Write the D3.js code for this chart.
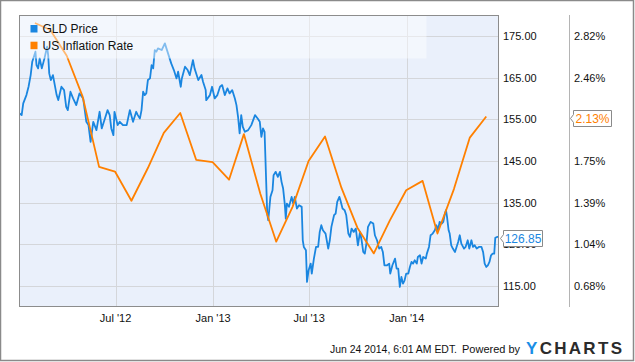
<!DOCTYPE html>
<html><head><meta charset="utf-8">
<script src="https://cdn.jsdelivr.net/npm/d3@7"></script>
<style>
html,body{margin:0;padding:0;background:#fff;}
svg text{font-family:"Liberation Sans",Arial,sans-serif;}
</style></head>
<body><svg id="c" width="635" height="362"></svg>
<script>
const priceDates = ["2012-01-02","2012-01-06","2012-01-09","2012-01-15","2012-01-19","2012-01-23","2012-01-26","2012-02-01","2012-02-03","2012-02-06","2012-02-09","2012-02-13","2012-02-18","2012-02-23","2012-02-25","2012-02-27","2012-03-01","2012-03-05","2012-03-12","2012-03-15","2012-03-21","2012-03-26","2012-03-30","2012-04-02","2012-04-07","2012-04-12","2012-04-18","2012-04-24","2012-05-01","2012-05-07","2012-05-11","2012-05-15","2012-05-20","2012-05-26","2012-06-01","2012-06-05","2012-06-11","2012-06-16","2012-06-20","2012-06-23","2012-06-27","2012-06-29","2012-07-05","2012-07-09","2012-07-15","2012-07-22","2012-07-28","2012-08-03","2012-08-09","2012-08-12","2012-08-16","2012-08-19","2012-08-22","2012-08-25","2012-08-28","2012-08-31","2012-09-04","2012-09-07","2012-09-10","2012-09-13","2012-09-16","2012-09-19","2012-09-26","2012-10-02","2012-10-05","2012-10-11","2012-10-14","2012-10-19","2012-10-24","2012-10-27","2012-11-01","2012-11-03","2012-11-09","2012-11-14","2012-11-18","2012-11-24","2012-11-27","2012-12-01","2012-12-04","2012-12-10","2012-12-13","2012-12-18","2012-12-19","2012-12-26","2012-12-30","2013-01-04","2013-01-09","2013-01-14","2013-01-18","2013-01-23","2013-01-28","2013-02-01","2013-02-06","2013-02-11","2013-02-14","2013-02-17","2013-02-20","2013-02-23","2013-02-26","2013-03-02","2013-03-08","2013-03-14","2013-03-21","2013-03-26","2013-03-30","2013-04-02","2013-04-05","2013-04-08","2013-04-13","2013-04-15","2013-04-19","2013-04-23","2013-04-25","2013-04-29","2013-05-03","2013-05-07","2013-05-10","2013-05-13","2013-05-16","2013-05-18","2013-05-20","2013-05-24","2013-05-29","2013-06-01","2013-06-04","2013-06-08","2013-06-12","2013-06-17","2013-06-19","2013-06-21","2013-06-25","2013-06-27","2013-06-30","2013-07-04","2013-07-06","2013-07-10","2013-07-14","2013-07-18","2013-07-21","2013-07-24","2013-07-27","2013-08-01","2013-08-06","2013-08-09","2013-08-12","2013-08-17","2013-08-20","2013-08-23","2013-08-27","2013-08-29","2013-09-02","2013-09-06","2013-09-09","2013-09-13","2013-09-16","2013-09-19","2013-09-23","2013-09-27","2013-10-01","2013-10-05","2013-10-08","2013-10-11","2013-10-14","2013-10-17","2013-10-20","2013-10-25","2013-10-30","2013-11-02","2013-11-06","2013-11-10","2013-11-14","2013-11-17","2013-11-20","2013-11-25","2013-11-29","2013-12-01","2013-12-05","2013-12-10","2013-12-13","2013-12-16","2013-12-19","2013-12-22","2013-12-25","2013-12-28","2013-12-31","2014-01-04","2014-01-07","2014-01-10","2014-01-13","2014-01-16","2014-01-20","2014-01-22","2014-01-26","2014-01-29","2014-02-01","2014-02-06","2014-02-08","2014-02-12","2014-02-15","2014-02-19","2014-02-23","2014-02-26","2014-03-01","2014-03-04","2014-03-08","2014-03-11","2014-03-14","2014-03-16","2014-03-18","2014-03-21","2014-03-23","2014-03-26","2014-03-29","2014-04-02","2014-04-05","2014-04-08","2014-04-11","2014-04-14","2014-04-19","2014-04-22","2014-04-26","2014-04-29","2014-05-03","2014-05-06","2014-05-09","2014-05-13","2014-05-17","2014-05-22","2014-05-25","2014-05-28","2014-05-31","2014-06-03","2014-06-06","2014-06-09","2014-06-12","2014-06-15","2014-06-17","2014-06-21","2014-06-24"];
const priceValues = [156.4,156,158.8,160.8,162.8,165.6,168.8,171.2,168,167.2,169.6,167.2,169.6,172.4,170.4,166,164.4,165.6,160.8,159.6,162.8,162,158,157.2,161.6,160,158.4,161.2,160,154.4,153.6,149.6,154.4,152.4,156.8,152.8,155.2,157.2,156,152.8,151.2,156.8,153.6,154.4,153.6,153.6,157.2,154.4,156.8,156,155.2,157.2,161.6,160.8,161.2,164.4,164.8,168,167.2,171.6,171.2,172,171.6,173.2,172,169.6,168.4,166.8,164.8,166.4,162.8,164.8,167.6,166.8,165.6,169.2,167.2,165.6,164.4,165.6,164,162,159.6,160.8,162.8,160,160.8,162.8,163.2,160.8,162.4,161.2,162,160,158.4,155.6,151.6,156,153.2,152,152.4,153.6,156,155.2,154.4,150.8,152.8,152,132.4,130.8,136.4,138,141.6,142.4,141.2,142.4,140,138.4,134.8,131.2,134.8,134,136.4,134.8,136.4,133.6,134.4,134,126,124.4,123.6,116,118.8,120.4,118,121.6,124.4,124.4,128,129.6,128.4,127.6,124,126,129.2,132,132.4,135.2,136.4,135.6,133.6,133.2,132,127.6,126.8,128.8,128,128.8,124.8,128,126,123.2,122.8,125.2,129.2,130.4,130,127.2,126,124,124.4,123.2,120,120,120.4,118,120,121.6,119.2,119.2,114.8,117.2,115.6,116.4,118,118,119.6,120.8,120.4,121.2,120.4,122,122.4,120.4,122,121.6,122.8,124.4,127.2,127.6,128.4,129.6,128.4,130.4,130,130.4,132.4,133.2,131.6,128.4,127.6,124.8,124,123.2,124.4,125.6,127.2,125.2,124,124.4,126,124,126,124.4,124.8,124,124.4,124.4,123.2,120.4,119.6,120,120.8,122.4,122.8,122.8,126.6,126.8,126.85];
const inflDates = ["2012-01-31","2012-02-29","2012-03-31","2012-04-30","2012-05-31","2012-06-30","2012-07-31","2012-08-31","2012-09-30","2012-10-31","2012-11-30","2012-12-31","2013-01-31","2013-02-28","2013-03-31","2013-04-30","2013-05-31","2013-06-30","2013-07-31","2013-08-31","2013-09-30","2013-10-31","2013-11-30","2013-12-31","2014-01-31","2014-02-28","2014-03-31","2014-04-30","2014-05-31"];
const inflValues = [2.93,2.87,2.65,2.30,1.70,1.66,1.41,1.69,1.99,2.16,1.76,1.74,1.59,1.98,1.47,1.06,1.36,1.75,1.96,1.52,1.18,0.96,1.24,1.50,1.58,1.13,1.51,1.95,2.13];
const priceTicks = [115,125,135,145,155,165,175];
// the 2.11% tick sits fully behind the 2.13% flag in the reference, so it is not drawn
const pctTickValues = [0.68,1.04,1.39,1.75,2.46,2.82];
const xTickDates = ["2012-07-01","2013-01-01","2013-07-01","2014-01-01"];
const xTickLabels = ["Jul '12","Jan '13","Jul '13","Jan '14"];
const seriesNames = ["GLD Price","US Inflation Rate"];
const lastPriceLabel = "126.85";
const lastInflLabel = "2.13%";

const BLUE = "#1a86e0", ORANGE = "#ff8000";
const parse = d3.timeParse("%Y-%m-%d");
const svg = d3.select("#c");
const L = 19, R = 499, T = 15, B = 307;

const x = d3.scaleTime().domain([parse("2012-01-01"), parse("2014-06-24")]).range([L, R]);
const y = d3.scaleLinear().domain([110, 180]).range([B, T]);
const y2 = d3.scaleLinear().domain([0.68, 2.82]).range([y(115), y(175)]);

svg.append("rect").attr("x",0.5).attr("y",0.5).attr("width",633).attr("height",360)
  .attr("fill","#fff").attr("stroke","#8a8a8a").attr("stroke-width",1.5);

svg.append("rect").attr("x",L).attr("y",T).attr("width",R-L).attr("height",B-T).attr("fill","#eaf0fb");

svg.append("g").selectAll("line").data(priceTicks).join("line")
  .attr("x1",L).attr("x2",R).attr("y1",d=>Math.round(y(d))+0.5).attr("y2",d=>Math.round(y(d))+0.5)
  .attr("stroke","#d4d6da").attr("stroke-width",1);
svg.append("g").selectAll("line").data(xTickDates).join("line")
  .attr("y1",T).attr("y2",B).attr("x1",d=>Math.round(x(parse(d)))+0.5).attr("x2",d=>Math.round(x(parse(d)))+0.5)
  .attr("stroke","#d4d6da").attr("stroke-width",1);

svg.append("clipPath").attr("id","clip").append("rect").attr("x",L).attr("y",T).attr("width",R-L).attr("height",B-T);
const g = svg.append("g").attr("clip-path","url(#clip)");

const priceData = priceDates.map((d,i)=>({d:parse(d), v:priceValues[i]}));
const inflData = inflDates.map((d,i)=>({d:parse(d), v:inflValues[i]}));

g.append("path").datum(priceData)
  .attr("d", d3.line().x(p=>x(p.d)).y(p=>y(p.v)))
  .attr("fill","none").attr("stroke",BLUE).attr("stroke-width",1.8).attr("stroke-linejoin","round");
g.append("path").datum(inflData)
  .attr("d", d3.line().x(p=>x(p.d)).y(p=>y2(p.v)))
  .attr("fill","none").attr("stroke",ORANGE).attr("stroke-width",1.8).attr("stroke-linejoin","round");

svg.append("rect").attr("x",L+0.5).attr("y",T+0.5).attr("width",407).attr("height",43)
  .attr("fill","#fff").attr("opacity",0.45);
const leg = svg.append("g");
seriesNames.forEach((n,i)=>{
  leg.append("rect").attr("x",30.5).attr("y",25+i*16.7).attr("width",7).attr("height",7.5)
    .attr("fill", i===0?BLUE:ORANGE);
  leg.append("text").attr("x",42.5).attr("y",33+i*16.7).attr("font-size",12).attr("fill","#111").text(n);
});

svg.append("rect").attr("x",L+0.5).attr("y",T+0.5).attr("width",R-L-1).attr("height",B-T-1)
  .attr("fill","none").attr("stroke","#8c8c8c").attr("stroke-width",1);

svg.append("line").attr("x1",569.5).attr("x2",569.5).attr("y1",T).attr("y2",B).attr("stroke","#b4b4b4");

svg.append("g").selectAll("text").data(priceTicks).join("text")
  .attr("x",503).attr("y",d=>y(d)+4).attr("font-size",11).attr("fill","#111")
  .text(d=>d3.format(".2f")(d));
svg.append("g").selectAll("text").data(pctTickValues).join("text")
  .attr("x",574).attr("y",d=>y2(d)+4).attr("font-size",11).attr("fill","#111")
  .text(d=>d3.format(".2f")(d)+"%");

svg.append("g").selectAll("text").data(xTickDates).join("text")
  .attr("x",d=>x(parse(d))).attr("y",322).attr("text-anchor","middle").attr("font-size",11).attr("fill","#111")
  .text((d,i)=>xTickLabels[i]);

function flag(xTip, yv, w, txt, color){
  const h = 16, bx = xTip+3;
  const p = `M${xTip},${yv} L${bx},${yv-4} L${bx},${yv-h/2} L${bx+w},${yv-h/2} L${bx+w},${yv+h/2} L${bx},${yv+h/2} L${bx},${yv+4} Z`;
  svg.append("path").attr("d",p).attr("fill","#fff").attr("stroke","#8a8a8a").attr("stroke-width",1);
  svg.append("text").attr("x",bx+w/2).attr("y",yv+4.5).attr("text-anchor","middle").attr("font-size",12)
    .attr("fill",color).text(txt);
}
flag(500.5, Math.round(y(priceValues[priceValues.length-1]))+1.5, 39, lastPriceLabel, BLUE);
flag(570.5, Math.round(y2(inflValues[inflValues.length-1]))+1.5, 38, lastInflLabel, ORANGE);

svg.append("text").attr("x",330).attr("y",353).attr("font-size",11).attr("fill","#111")
  .attr("textLength",127).attr("lengthAdjust","spacingAndGlyphs")
  .text("Jun 24 2014, 6:01 AM EDT.");
svg.append("text").attr("x",462).attr("y",353).attr("font-size",11).attr("fill","#111")
  .text("Powered by");
const logo = svg.append("text").attr("x",526).attr("y",354).attr("font-size",17).attr("font-weight","bold")
  .attr("letter-spacing",2.3);
logo.append("tspan").attr("fill","#1a8ee6").text("Y");
logo.append("tspan").attr("fill","#2b2b2b").text("CHARTS");
</script></body></html>
